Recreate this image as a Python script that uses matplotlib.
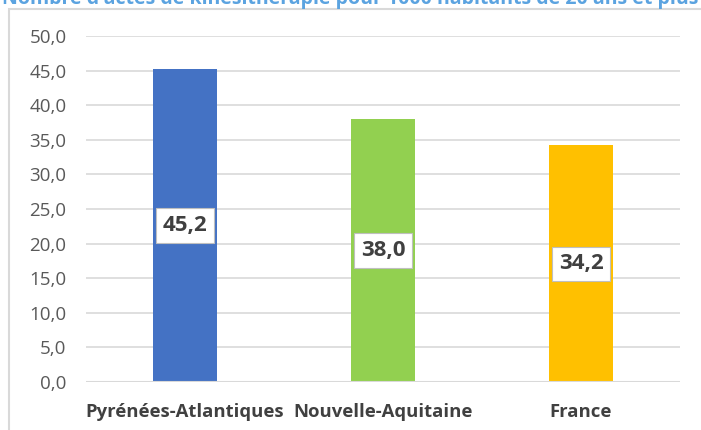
import matplotlib
matplotlib.use("Agg")
import matplotlib.pyplot as plt
from matplotlib.patches import Rectangle

# ── Data ───────────────────────────────────────────────────────────────────────
categories = ["Pyrénées-Atlantiques", "Nouvelle-Aquitaine", "France"]
values = [45.2, 38.0, 34.2]
colors = ["#4472C4", "#92D050", "#FFC000"]
y_ticks = [0, 5, 10, 15, 20, 25, 30, 35, 40, 45, 50]
title = "Nombre d'actes de kinésithérapie pour 1000 habitants de 20 ans et plus"

plt.rcParams["font.family"] = ["Open Sans", "DejaVu Sans"]

W, H = 701, 430
fig = plt.figure(figsize=(W / 100, H / 100), dpi=100)

# chart frame (cut on the right and bottom like the source)
fig.patches.append(Rectangle((9 / W, -0.05), 1.0, (H - 9) / H + 0.05,
                             transform=fig.transFigure, fill=False,
                             edgecolor="#D9D9D9", linewidth=1.5))

# title, mostly clipped by the top edge (baseline ~4 px below the top)
fig.text(0.5, 1.0 - 4 / H, title, ha="center", va="baseline",
         fontsize=14, fontweight="bold", color="#5BA3E0")

ax = fig.add_axes([86 / W, (H - 382) / H, (680 - 86) / W, (382 - 36) / H])
x = range(len(categories))
ax.bar(x, values, width=0.32, color=colors, zorder=3)
ax.set_xlim(-0.5, len(categories) - 0.5)
ax.set_ylim(0, 50)
ax.set_yticks(y_ticks)
ax.set_yticklabels([f"{v:.1f}".replace(".", ",") for v in y_ticks],
                   fontsize=13.5, color="#595959")
ax.set_xticks(list(x))
ax.set_xticklabels(categories, fontsize=13.3, fontweight="bold", color="#404040")
ax.tick_params(axis="both", length=0)
ax.tick_params(axis="y", pad=14)
ax.tick_params(axis="x", pad=15)
ax.grid(axis="y", color="#D9D9D9", linewidth=1.2, zorder=0)
for s in ax.spines.values():
    s.set_visible(False)
ax.axhline(0, color="#D9D9D9", linewidth=1.5, zorder=4)

for i, v in enumerate(values):
    ax.text(i, v / 2, f"{v:.1f}".replace(".", ","), ha="center", va="center",
            fontsize=16, fontweight="bold", color="#404040", zorder=5,
            bbox=dict(boxstyle="square,pad=0.3", facecolor="white",
                      edgecolor="#BFBFBF", linewidth=0.8))

fig.savefig("out.png", dpi=100)
